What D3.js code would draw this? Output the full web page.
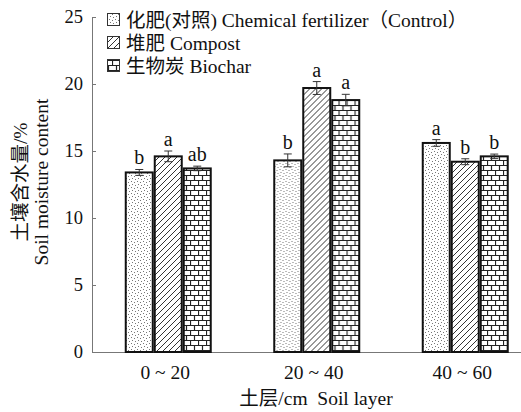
<!DOCTYPE html>
<html><head><meta charset="utf-8">
<script src="https://cdn.jsdelivr.net/npm/d3@7"></script>
<style>body{margin:0;background:#fff}svg{display:block}</style>
</head><body><svg id="c" width="521" height="412"></svg>
<script>
const categories = ["0 ~ 20", "20 ~ 40", "40 ~ 60"];
const seriesNames = ["化肥(对照) Chemical fertilizer（Control）", "堆肥 Compost", "生物炭 Biochar"];
const chemical = [13.4, 14.3, 15.6];
const compost = [14.6, 19.7, 14.2];
const biochar = [13.7, 18.8, 14.6];
const chemicalErr = [0.22, 0.48, 0.25];
const compostErr = [0.4, 0.48, 0.22];
const biocharErr = [0.17, 0.43, 0.17];
const chemicalSig = ["b", "b", "a"];
const compostSig = ["a", "a", "b"];
const biocharSig = ["ab", "a", "b"];
const yTicks = [0, 5, 10, 15, 20, 25];

const FONT = "'Liberation Serif', 'Times New Roman', 'Noto Sans CJK SC', serif";
const series = [
  {vals: chemical, err: chemicalErr, sig: chemicalSig, pat: "pDot"},
  {vals: compost, err: compostErr, sig: compostSig, pat: "pHatch"},
  {vals: biochar, err: biocharErr, sig: biocharSig, pat: "pBrick"}
];

const svg = d3.select("#c").attr("font-family", FONT);
const defs = svg.append("defs");
const pd = defs.append("pattern").attr("id","pDot").attr("patternUnits","userSpaceOnUse").attr("width",6).attr("height",6);
pd.append("rect").attr("width",6).attr("height",6).attr("fill","#fff");
[[1,1],[4,2],[2,4],[5,5]].forEach(p=>pd.append("rect").attr("x",p[0]).attr("y",p[1]).attr("width",1).attr("height",1).attr("fill","#777"));
const ph = defs.append("pattern").attr("id","pHatch").attr("patternUnits","userSpaceOnUse").attr("width",6).attr("height",6);
ph.append("rect").attr("width",6).attr("height",6).attr("fill","#fff");
ph.append("path").attr("d","M0,6 L6,0 M-1,1 L1,-1 M5,7 L7,5").attr("stroke","#333").attr("stroke-width",1);
const pb = defs.append("pattern").attr("id","pBrick").attr("patternUnits","userSpaceOnUse").attr("width",8).attr("height",10);
pb.append("rect").attr("width",8).attr("height",10).attr("fill","#fff");
pb.append("path").attr("d","M0,0.5 H8 M0,5.5 H8 M0.5,0 V5 M4.5,5 V10").attr("stroke","#222").attr("stroke-width",1.2);

const y = d3.scaleLinear().domain([0,25]).range([352,17]);
const x0 = d3.scaleBand().domain(categories).range([94, 539.5]).paddingInner(0).paddingOuter(0);
const x1 = d3.scaleBand().domain([0,1,2]).range([x0.bandwidth()/2-43.5, x0.bandwidth()/2+43.5]);

const yAxis = d3.axisLeft(y).tickValues(yTicks).tickSize(-4).tickPadding(9);
const gy = svg.append("g").attr("transform","translate(92,0)").call(yAxis);
gy.attr("font-family", FONT).attr("font-size", 18.5);
gy.select(".domain").attr("stroke","#777");
gy.selectAll(".tick line").attr("stroke","#777");
gy.selectAll(".tick text").attr("fill","#111");
svg.append("line").attr("x1",92).attr("x2",521).attr("y1",352.5).attr("y2",352.5).attr("stroke","#777");

categories.forEach((c,i)=>{
  const g = svg.append("g").attr("transform",`translate(${x0(c)},0)`);
  series.forEach((s,j)=>{
    const bx = x1(j), bw = x1.bandwidth(), v = s.vals[i];
    g.append("rect").attr("x",bx+1).attr("y",y(v)).attr("width",bw-2).attr("height",y(0)-y(v))
      .attr("fill",`url(#${s.pat})`).attr("stroke","#111").attr("stroke-width",2);
    const cx = bx + bw/2, e = s.err[i];
    g.append("path").attr("d",`M${cx},${y(v-e)} V${y(v+e)} M${cx-4},${y(v+e)} H${cx+4} M${cx-4},${y(v-e)} H${cx+4}`)
      .attr("stroke","#333").attr("stroke-width",1).attr("fill","none");
    g.append("text").attr("x",cx).attr("y",y(v+e)-5).attr("text-anchor","middle").attr("font-size",20).attr("fill","#111").text(s.sig[i]);
  });
});

svg.selectAll(".xl").data(categories).enter().append("text").attr("class","xl")
  .attr("x",d=>x0(d)+x0.bandwidth()/2-3).attr("y",379).attr("text-anchor","middle").attr("font-size",19.5).attr("fill","#111").text(d=>d);
svg.append("text").attr("x",316).attr("y",405).attr("text-anchor","middle").attr("font-size",19.5).attr("fill","#111")
  .attr("xml:space","preserve").text("土层/cm  Soil layer");

svg.append("text").attr("transform","translate(27,182) rotate(-90)").attr("text-anchor","middle").attr("font-size",19.5).attr("fill","#111").text("土壤含水量/%");
svg.append("text").attr("transform","translate(48,182) rotate(-90)").attr("text-anchor","middle").attr("font-size",19.5).attr("fill","#111").text("Soil moisture content");

seriesNames.forEach((n,i)=>{
  const ly = 20 + i*23;
  svg.append("rect").attr("x",107.5).attr("y",ly-6.5).attr("width",12).attr("height",12)
    .attr("fill",`url(#${series[i].pat})`).attr("stroke","#333").attr("stroke-width",1);
  svg.append("text").attr("x",126).attr("y",ly+6.5).attr("font-size",19.5).attr("fill","#111").text(n);
});
</script></body></html>
